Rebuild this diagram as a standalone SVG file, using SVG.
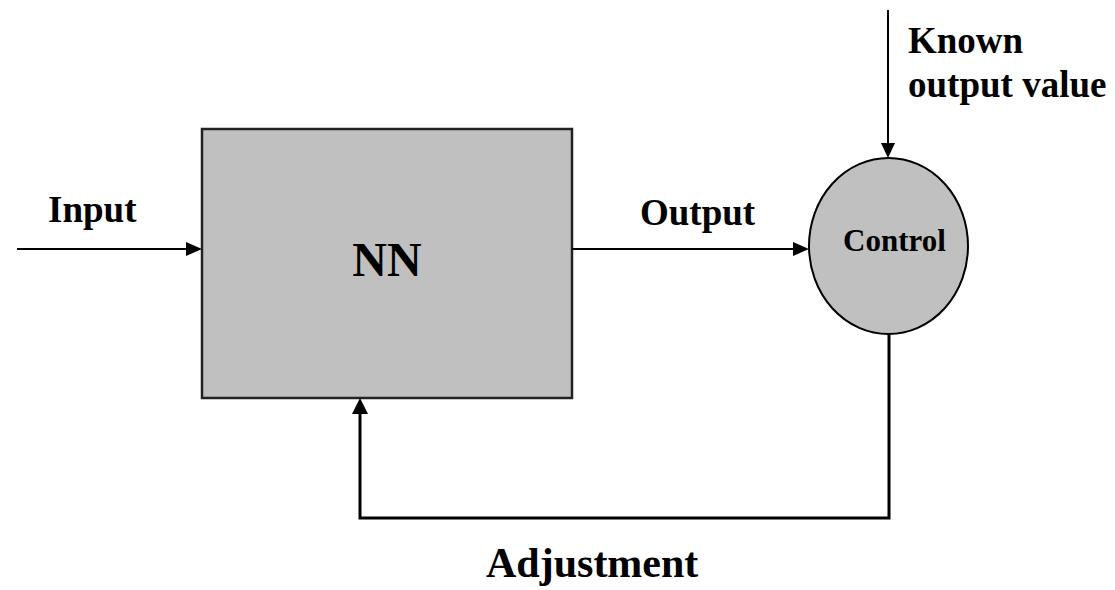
<svg xmlns="http://www.w3.org/2000/svg" width="1115" height="590" viewBox="0 0 1115 590">
<style>
text{font-family:"Liberation Serif","Times New Roman",serif;font-weight:bold;fill:#000}
.ln{stroke:#000;stroke-width:2;fill:none}
.fb{stroke:#000;stroke-width:3;fill:none}
.ah{fill:#000}
</style>
<rect width="1115" height="590" fill="#fff"/>
<g id="nn">
<rect x="202" y="129" width="370" height="269" fill="#c0c0c0" stroke="#222" stroke-width="2.5"/>
<text x="387" y="276" font-size="48" text-anchor="middle">NN</text>
</g>
<g id="control">
<ellipse cx="888.5" cy="246" rx="79.5" ry="88" fill="#c0c0c0" stroke="#000" stroke-width="2"/>
<text x="843" y="251" font-size="31">Control</text>
</g>
<g id="connectors">
<line class="ln" x1="17" y1="249" x2="186" y2="249"/>
<polygon class="ah" points="186,242 202,249 186,256"/>
<line class="ln" x1="572" y1="249" x2="793" y2="249"/>
<polygon class="ah" points="793,242 809,249 793,256"/>
<line class="ln" x1="888" y1="10" x2="888" y2="143"/>
<polygon class="ah" points="881,143 888,158 895,143"/>
<polyline class="fb" points="889,334 889,518 360,518 360,413"/>
<polygon class="ah" points="352,414 360,398 368,414"/>
</g>
<g id="labels">
<text x="48" y="222" font-size="37">Input</text>
<text x="640" y="225" font-size="37">Output</text>
<text x="908" y="53" font-size="37">Known</text>
<text x="908" y="97" font-size="37">output value</text>
<text x="486" y="577" font-size="42">Adjustment</text>
</g>
</svg>
